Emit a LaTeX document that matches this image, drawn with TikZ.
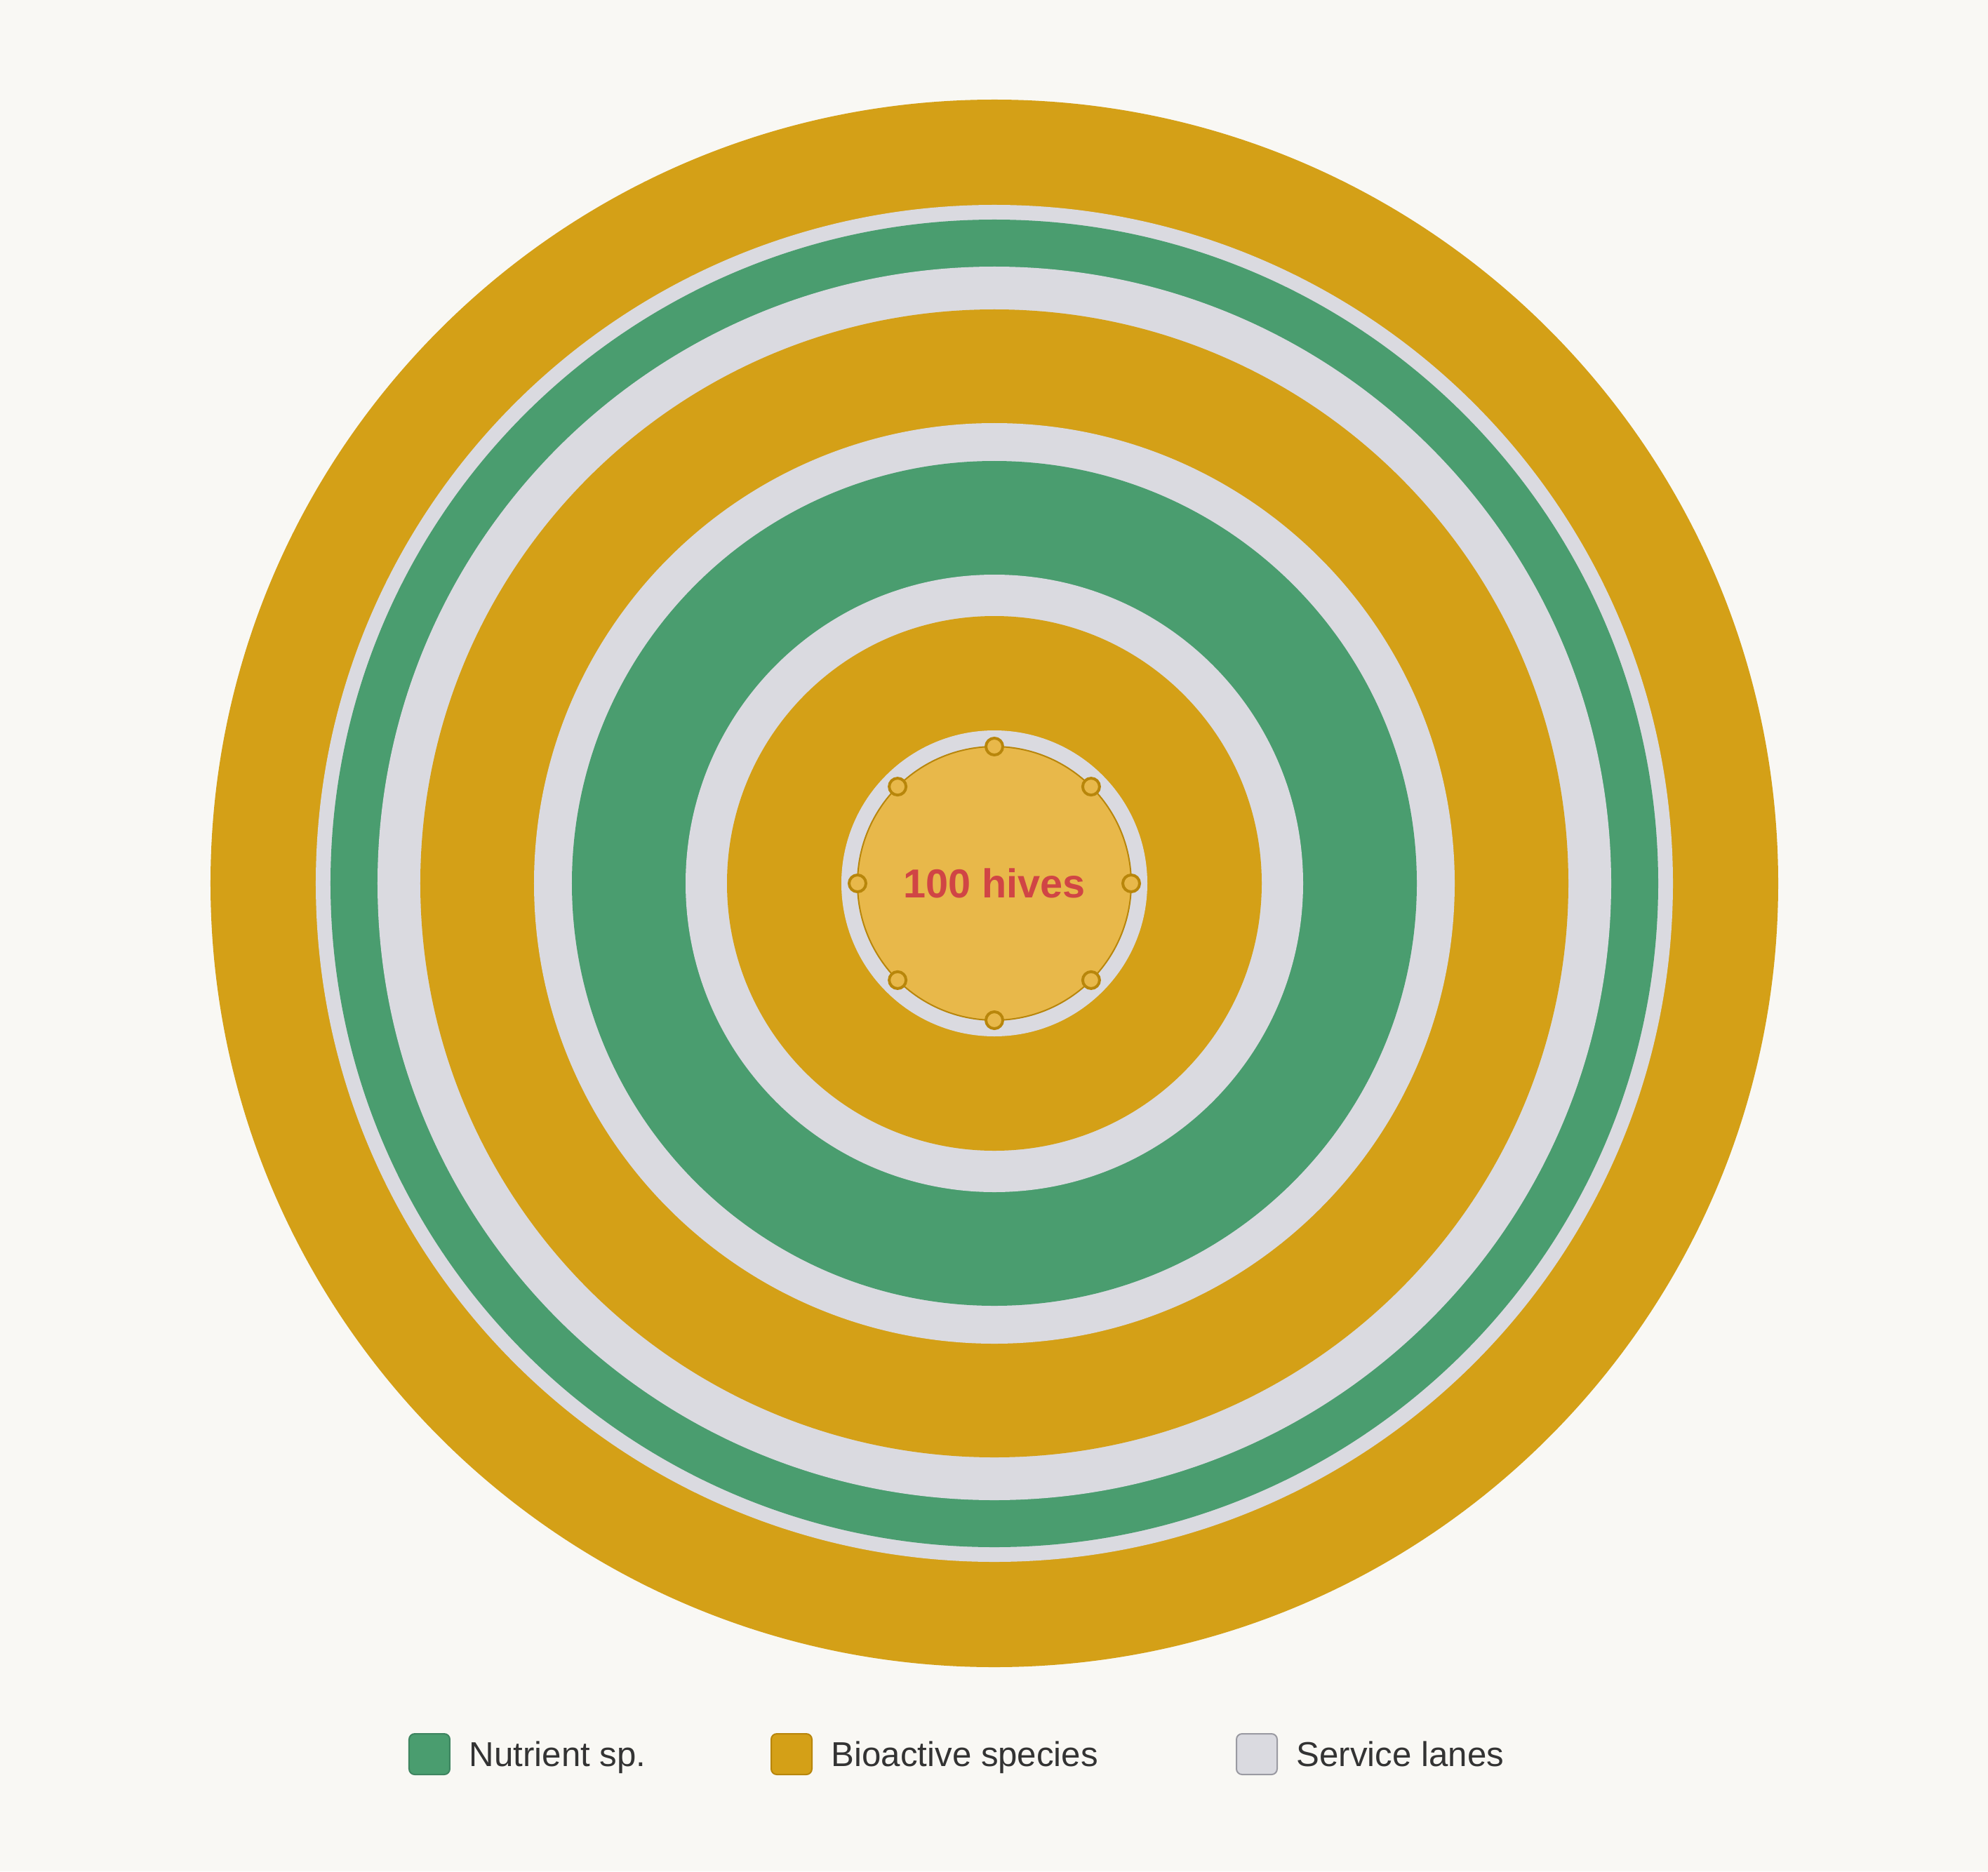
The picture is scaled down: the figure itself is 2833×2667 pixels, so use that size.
\documentclass[tikz,border=0pt]{standalone}
\usepackage{fontspec}
\setmainfont{Liberation Sans}
\usetikzlibrary{positioning}
\definecolor{paper}{HTML}{F9F8F4}
\definecolor{gold}{HTML}{D4A017}
\definecolor{goldline}{HTML}{B8860B}
\definecolor{hive}{HTML}{E8B84A}
\definecolor{leaf}{HTML}{4A9D6F}
\definecolor{leafline}{HTML}{3E8560}
\definecolor{lane}{HTML}{DADAE0}
\definecolor{laneline}{HTML}{9A9AA2}
\definecolor{hivered}{HTML}{D04545}
\definecolor{ink}{HTML}{333333}
\pgfmathsetmacro{\hiveR}{195}
\tikzset{
	swatch/.style={
		shape=rectangle, rounded corners=2pt,
		minimum size=14.5pt, inner sep=0,
		line width=0.5pt
	},
	keytext/.style={
		inner sep=0, anchor=west, text=ink,
		text height=8.8pt, text depth=0pt,
		font=\fontsize{12.3}{14}\selectfont
	},
	hivedot/.style={
		shape=circle, minimum size=6pt, inner sep=0,
		fill=hive, draw=goldline, line width=1pt
	}
}
\begin{document}
\begin{tikzpicture}[x=0.25pt,y=0.25pt]
\fill[paper] (-1417,-1408) rectangle (1416,1259);

% rings, outside in
\foreach \r/\c in {1117/gold,967/lane,946/leaf,879/lane,818/gold,656/lane,602/leaf,440/lane,381/gold,218/lane}{%
	\fill[\c] (0,0) circle (\r);
}

% the hive in the middle
\filldraw[fill=hive, draw=goldline, line width=0.5pt] (0,0) circle (\hiveR);
\node[font=\fontsize{14.4}{16}\selectfont\bfseries, text=hivered, inner sep=0] (hives) at (0,0) {100 hives};
\foreach \a in {0,45,...,315}{%
	\node[hivedot] (dot\a) at (\a:\hiveR) {};
}

% legend
\node[swatch, fill=leaf, draw=leafline] (keyNut) at (-805,-1241) {};
\node[keytext, right=6.5pt of keyNut] (txtNut) {Nutrient sp.};
\node[swatch, fill=gold, draw=goldline] (keyBio) at (-289,-1241) {};
\node[keytext, right=6.5pt of keyBio] (txtBio) {Bioactive species};
\node[swatch, fill=lane, draw=laneline] (keyLane) at (374,-1241) {};
\node[keytext, right=6.5pt of keyLane] (txtLane) {Service lanes};
\end{tikzpicture}
\end{document}
